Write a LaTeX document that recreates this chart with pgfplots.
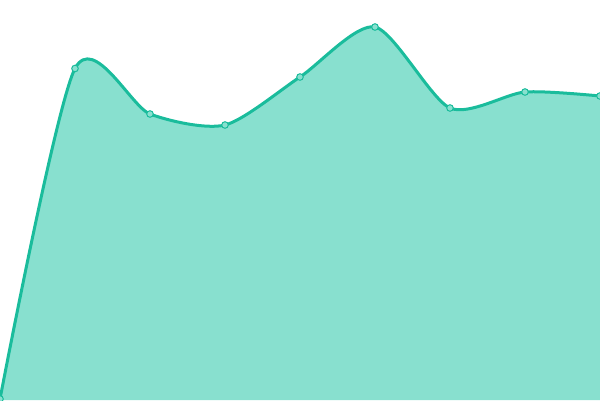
\documentclass[border=0pt]{standalone}
\usepackage{pgfplots}
\pgfplotsset{compat=1.18}
\definecolor{teal1}{HTML}{1ABC9C}
\definecolor{tealfill}{HTML}{88E0CF}
\begin{document}
\begin{tikzpicture}
  \begin{axis}[
    width=600pt, height=400pt,
    scale only axis,
    hide axis,
    xmin=0, xmax=600,
    ymin=0, ymax=400,
    clip=true,
    clip marker paths=true,
  ]
    \addplot[draw=none, fill=tealfill, smooth, tension=0.45]
      coordinates {(0,1) (75,331.5) (150,286) (225,275) (300,323) (375,373) (450,292) (525,308) (600,304)} \closedcycle;
    \addplot[teal1, line width=3pt, smooth, tension=0.45,
      mark=*, mark size=3.3pt,
      mark options={fill=tealfill, draw=teal1, line width=1pt}]
      coordinates {(0,1) (75,331.5) (150,286) (225,275) (300,323) (375,373) (450,292) (525,308) (600,304)};
  \end{axis}
  \pgfresetboundingbox
  \useasboundingbox (current axis.south west) rectangle (current axis.north east);
\end{tikzpicture}
\end{document}
